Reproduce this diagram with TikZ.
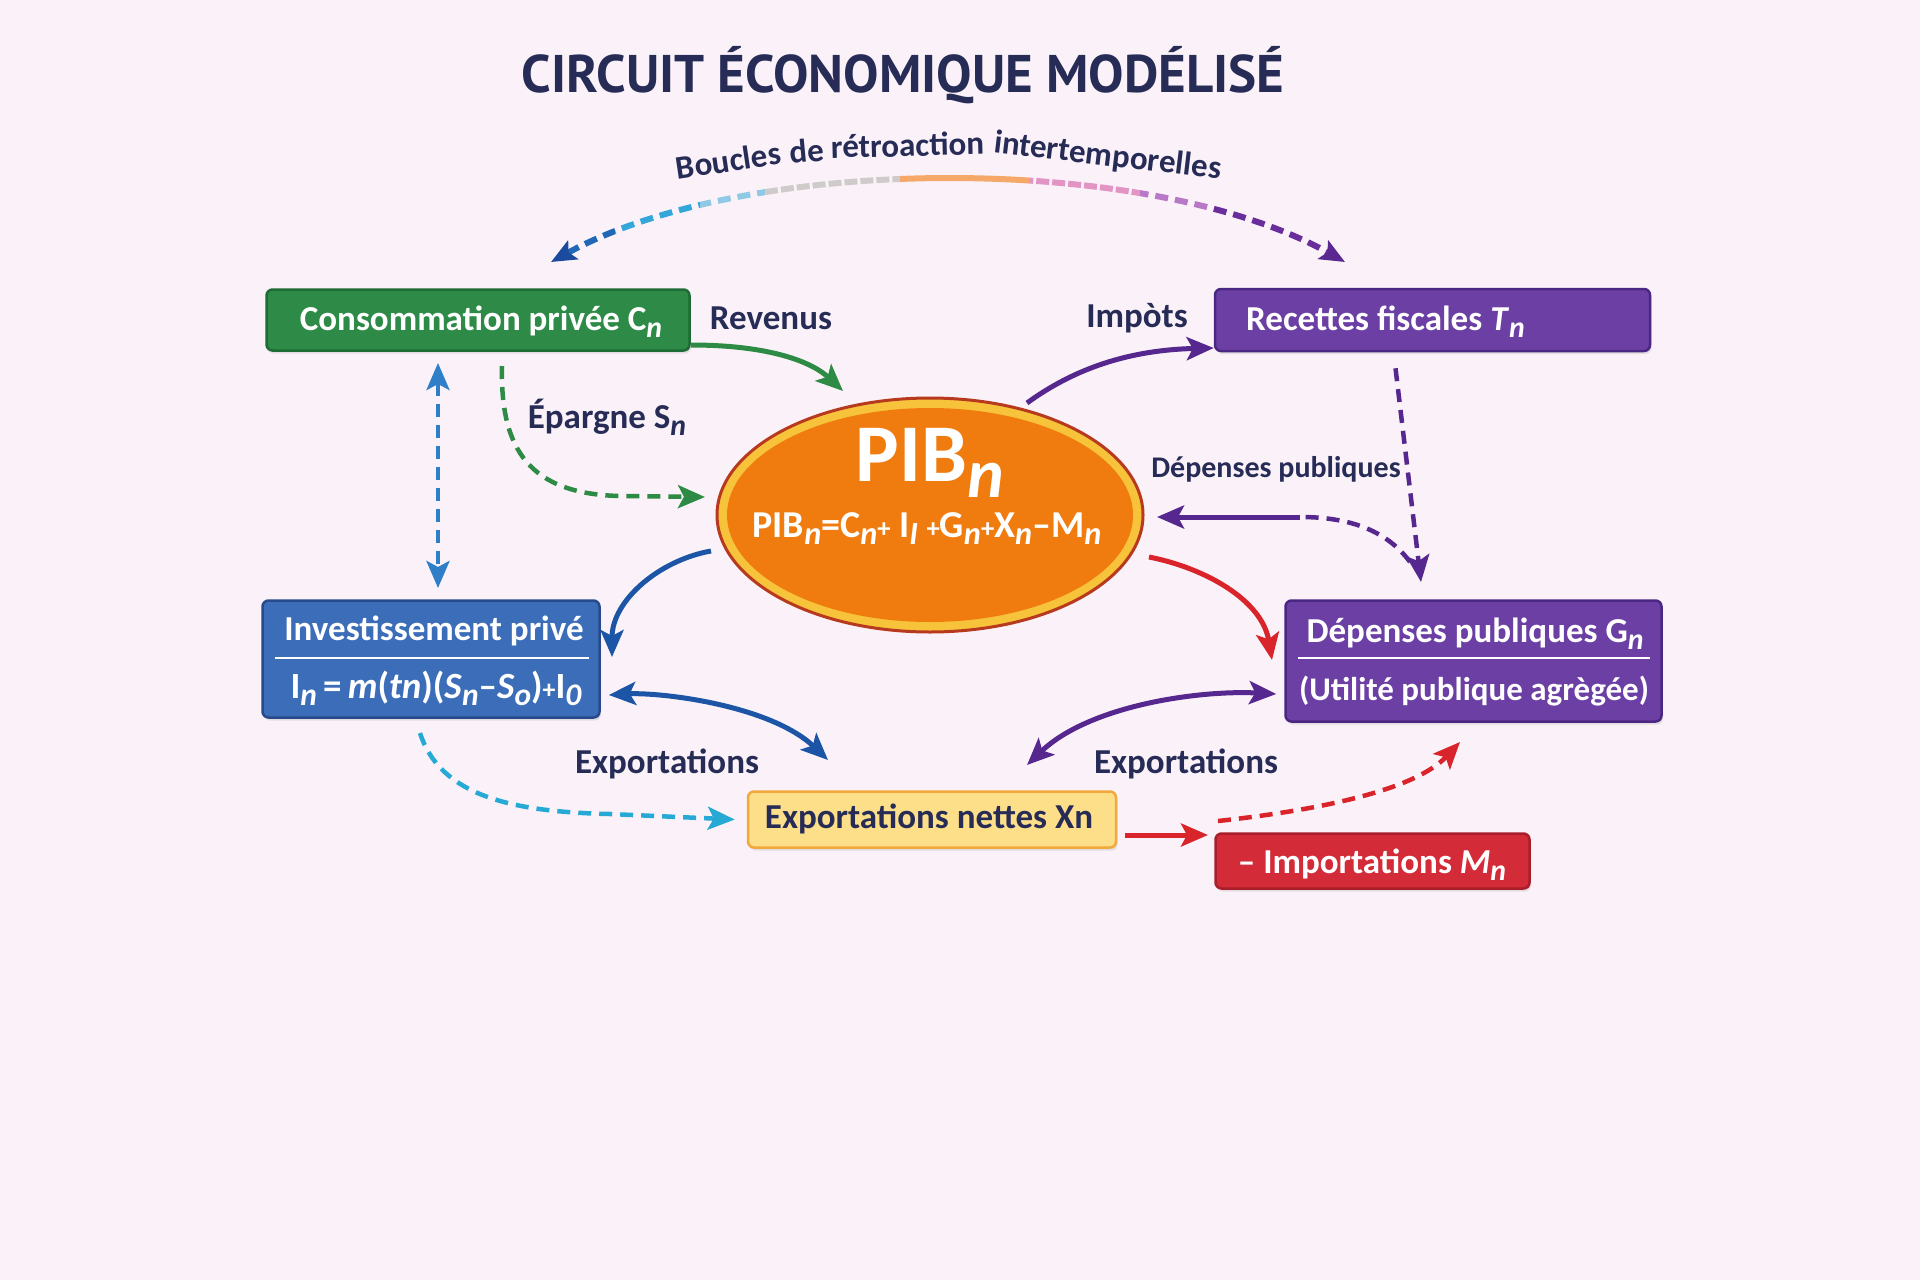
\documentclass[tikz,border=0pt]{standalone}
\usepackage{fontspec}
\setmainfont{Carlito}
\newfontfamily\titlefont{PT Sans}
\usetikzlibrary{arrows.meta,shapes.geometric,shadows}
\definecolor{bgc}{HTML}{FAF2F8}
\definecolor{navy}{HTML}{272C57}
\definecolor{grn}{HTML}{2E8B47}
\definecolor{grnD}{HTML}{1E6B35}
\definecolor{grnA}{HTML}{2E8B45}
\definecolor{pur}{HTML}{6C3FA5}
\definecolor{purD}{HTML}{4B2784}
\definecolor{purA}{HTML}{55278F}
\definecolor{blu}{HTML}{3C6DB8}
\definecolor{bluD}{HTML}{274A8C}
\definecolor{bluA}{HTML}{1C55A5}
\definecolor{bluV}{HTML}{2F7FC8}
\definecolor{cyanA}{HTML}{27A9D6}
\definecolor{yel}{HTML}{FDDF8A}
\definecolor{yelD}{HTML}{F2A93B}
\definecolor{rd}{HTML}{D32B38}
\definecolor{rdD}{HTML}{A81E2A}
\definecolor{redA}{HTML}{D9242B}
\definecolor{pibred}{HTML}{B83A1E}
\definecolor{pibyel}{HTML}{F6C33A}
\definecolor{pibor}{HTML}{F07C10}
\definecolor{arcL}{HTML}{1B4B9E}
\definecolor{arcR}{HTML}{5A2890}
\definecolor{arc1}{HTML}{2068B5}
\definecolor{arc2}{HTML}{33A6DA}
\definecolor{arc3}{HTML}{8FC9E6}
\definecolor{arc4}{HTML}{CFCBCB}
\definecolor{arc5}{HTML}{F6A868}
\definecolor{arc6}{HTML}{E294C4}
\definecolor{arc7}{HTML}{B878C8}
\definecolor{arc8}{HTML}{6A2E9C}
\newcommand\sbn[1]{\raisebox{-0.2em}{\scalebox{0.85}{\itshape #1}}}
\newcommand\smp{\scalebox{0.7}{+}}
\newcommand\arcband[4]{\begin{scope}\clip (#1,110) rectangle (#2,300);
 \draw[line width=6pt,#3,#4,{Stealth[length=25pt,width=21pt,inset=5pt,color=arcL]}-{Stealth[length=25pt,width=21pt,inset=5pt,color=arcR]}] (551,262) .. controls (750,153) and (1150,153) .. (1345,262);\end{scope}}
\begin{document}
\begin{tikzpicture}[x=1pt,y=-1pt,
 >={Stealth[length=27pt,width=23pt,inset=6pt]},
 arr/.style={line width=5pt,->},
 darr/.style={line width=5pt,<->},
 dsh/.style={dash pattern=on 13pt off 8pt,line width=4.5pt},
 boxbase/.style={rectangle,rounded corners=6pt,line width=2.5pt,inner sep=0pt,
   drop shadow={shadow xshift=1.5pt,shadow yshift=-3pt,opacity=0.18}},
 wtxt/.style={text=white,font=\bfseries\fontsize{35}{38}\selectfont,inner sep=0pt,anchor=base},
 lbl/.style={text=navy,font=\bfseries\fontsize{35}{37}\selectfont,inner sep=0pt,anchor=base},
 arcword/.style={text=navy,font=\bfseries\fontsize{33}{34}\selectfont,inner sep=0pt,anchor=base,sloped}]
\fill[bgc] (0,0) rectangle (1920,1280);
\useasboundingbox (0,0) rectangle (1920,1280);

% title
\node[anchor=base,inner sep=0pt,text=navy,font=\titlefont\bfseries\fontsize{53}{55}\selectfont] (title) at (903,92) {CIRCUIT ÉCONOMIQUE MODÉLISÉ};

% feedback arc
\arcband{530}{615}{arc1}{dash pattern=on 13pt off 7pt}
\arcband{615}{700}{arc2}{dash pattern=on 13pt off 7pt}
\arcband{700}{765}{arc3}{dash pattern=on 13pt off 7pt}
\arcband{765}{900}{arc4}{dash pattern=on 13pt off 3pt}
\arcband{900}{1030}{arc5}{solid}
\arcband{1030}{1140}{arc6}{dash pattern=on 13pt off 3pt}
\arcband{1140}{1210}{arc7}{dash pattern=on 13pt off 7pt}
\arcband{1210}{1370}{arc8}{dash pattern=on 13pt off 7pt}
\path (660,184) .. controls (850,146) and (1050,146) .. (1238,188)
  node[arcword,pos=0.122] (aw1) {Boucles}
  node[arcword,pos=0.256] (aw2) {de}
  node[arcword,pos=0.428] (aw3) {rétroaction}
  node[arcword,pos=0.77] (aw4) {intertemporelles};

% boxes
\node[boxbase,draw=grnD,fill=grn,minimum width=423pt,minimum height=61pt] (cons) at (478,320) {};
\node[wtxt] (consT) at (481,330) {Consommation privée C\sbn{n}};
\node[boxbase,draw=purD,fill=pur,minimum width=435pt,minimum height=62pt] (rec) at (1432.5,320) {};
\node[wtxt,anchor=base west] (recT) at (1246,330) {Recettes fiscales \textit{T}\sbn{n}};
\node[boxbase,draw=bluD,fill=blu,minimum width=337pt,minimum height=117pt] (inv) at (431,659) {};
\node[wtxt] (invT) at (434,640) {Investissement privé};
\node[wtxt,font=\bfseries\fontsize{37}{38}\selectfont] (invF) at (436,698) {I\sbn{n}\,=\,\textit{m}(\textit{tn})(\textit{S}\sbn{n}–\textit{S}\sbn{o})\smp I\sbn{0}};
\draw[white,line width=2pt] (275,658) -- (589,658);
\node[boxbase,draw=purD,fill=pur,minimum width=376pt,minimum height=121pt] (dep) at (1473.5,661) {};
\node[wtxt] (depT) at (1475,642) {Dépenses publiques G\sbn{n}};
\node[wtxt,font=\bfseries\fontsize{33}{35}\selectfont] (depF) at (1474,700) {(Utilité publique agrègée)};
\draw[white,line width=2pt] (1298,658) -- (1650,658);
\node[boxbase,draw=yelD,fill=yel,minimum width=368pt,minimum height=56pt] (exp) at (932,819.5) {};
\node[wtxt,text=navy] (expT) at (929,828) {Exportations nettes Xn};
\node[boxbase,draw=rdD,fill=rd,minimum width=314pt,minimum height=55pt] (imp) at (1372.5,861) {};
\node[wtxt] (impT) at (1372,873) {– Importations \textit{M}\sbn{n}};

% PIB ellipse
\node[ellipse,draw=pibred,line width=3pt,fill=pibyel,minimum width=426pt,minimum height=234pt,inner sep=0pt] (pib) at (930,515) {};
\fill[pibor] (pib.center) ellipse [x radius=203pt,y radius=107pt];
\node[inner sep=0pt,anchor=base,text=white,font=\bfseries\fontsize{82}{84}\selectfont] (pibT) at (930,481) {PIB\sbn{n}};
\node[inner sep=0pt,anchor=base,text=white,font=\bfseries\fontsize{38}{40}\selectfont] (pibF) at (927,537) {PIB\sbn{n}=C\sbn{n}\smp{} I\sbn{I} \smp{}G\sbn{n}\smp{}X\sbn{n}–M\sbn{n}};

% labels
\node[lbl] (lrev) at (771,329) {Revenus};
\node[lbl] (lepa) at (607,428) {Épargne S\sbn{n}};
\node[lbl] (limp) at (1137,327) {Impòts};
\node[lbl,font=\bfseries\fontsize{30}{32}\selectfont] (ldep) at (1276,477) {Dépenses publiques};
\node[lbl] (lexl) at (667,773) {Exportations};
\node[lbl] (lexr) at (1186,773) {Exportations};

% coordinates
\coordinate (revE) at (843,391);
\coordinate (epS) at (502,366);
\coordinate (epM) at (620,496);
\coordinate (epE) at (705,497);
\coordinate (vT) at (438,363);
\coordinate (vB) at (438,588);
\coordinate (impS) at (1027,403);
\coordinate (pdE) at (1421,582);
\coordinate (pfS) at (1410,562);
\coordinate (pfM) at (1300,517);
\coordinate (pfE) at (1157,517);
\coordinate (rS) at (1149,557);
\coordinate (rE) at (1272,660);
\coordinate (bS) at (711,551);
\coordinate (bE) at (612,657);
\coordinate (bdE) at (828,760);
\coordinate (pdd) at (1027,765);
\coordinate (cyS) at (420,733);
\coordinate (reS) at (1125,835);
\coordinate (reE) at (1208,835);
\coordinate (rdS) at (1218,821);
\coordinate (rdE) at (1460,742);

% connectors
\draw[arr,grnA] ([yshift=-25pt]cons.east) .. controls (770,345) and (812,362) .. (revE);
\draw[arr,dsh,grnA] (epS) .. controls (500,450) and (530,494) .. (epM) -- (epE);
\draw[darr,dsh,bluV] (vT) -- (vB);
\draw[arr,purA] (impS) .. controls (1075,368) and (1130,350) .. ([yshift=-28pt]rec.west);
\draw[arr,dsh,purA] ([xshift=-37pt,yshift=-16pt]rec.south) -- (pdE);
\draw[dsh,purA] (pfS) .. controls (1385,528) and (1345,517) .. (pfM);
\draw[arr,purA] (pfM) -- (pfE);
\draw[arr,redA] (rS) .. controls (1205,568) and (1262,600) .. (rE);
\draw[arr,bluA] (bS) .. controls (660,560) and (612,600) .. (bE);
\draw[darr,bluA] ([xshift=8pt,yshift=-36pt]inv.east) .. controls (660,692) and (770,705) .. (bdE);
\draw[darr,purA] ([xshift=-8pt,yshift=-33pt]dep.west) .. controls (1200,690) and (1090,705) .. (pdd);
\draw[arr,dsh,cyanA] (cyS) .. controls (440,795) and (510,812) .. (610,814) -- ([xshift=-12pt]exp.west);
\draw[arr,redA] (reS) -- (reE);
\draw[arr,dsh,redA] (rdS) .. controls (1320,810) and (1415,790) .. (rdE);
\end{tikzpicture}
\end{document}
